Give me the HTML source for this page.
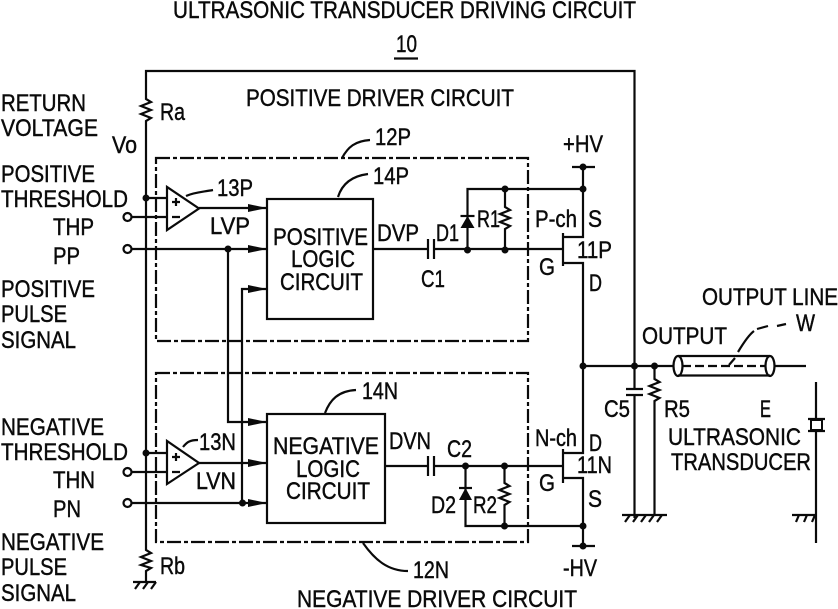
<!DOCTYPE html>
<html><head><meta charset="utf-8"><style>
html,body{margin:0;padding:0;background:#fff}
svg{display:block}
text{font-family:"Liberation Sans",sans-serif;font-size:24.5px;fill:#0a0a0a;stroke:#0a0a0a;stroke-width:.45}
.l{fill:none;stroke:#0a0a0a;stroke-width:2.2}
.d{fill:#0a0a0a;stroke:none}
.t{fill:none;stroke:#0a0a0a;stroke-width:2.2;stroke-dasharray:14 3 4 3}
</style></head><body>
<svg width="838" height="609" viewBox="0 0 838 609" xmlns="http://www.w3.org/2000/svg">
<defs>
<marker id="a" markerWidth="20" markerHeight="10" refX="19" refY="5" orient="auto" markerUnits="userSpaceOnUse"><path d="M0 1L19 5L0 9Z" fill="#0a0a0a"/></marker>
</defs>

<!-- outer box and rails -->
<path class="l" d="M146 97V71H634.500V518"/>
<path class="l" d="M146 97l0 2l5 3l-10 4l10 4l-10 4l10 4l-5 3v2V549l0 1l5 3l-10 4l10 4l-10 4l10 3l-5 3v11"/>
<path class="l" d="M133 582H156M140 582l-5 7M148 582l-5 7M156 582l-5 7"/>
<circle class="d" cx="146" cy="198" r="3.500"/><circle class="d" cx="146" cy="453" r="3.500"/>

<!-- dashed boxes -->
<rect class="t" x="156" y="158" width="372" height="183"/>
<rect class="t" x="156" y="373" width="372" height="169"/>

<!-- comparators -->
<path class="l" d="M167 187V230L199 208.500Z"/>
<path class="l" d="M146 198H167M131 217H167M176 198v8M172 202h8M172 217h8"/>
<path class="l" d="M167 441V484L199 463Z"/>
<path class="l" d="M146 453H167M131 472H167M176 453v8M172 457h8M172 472h8"/>
<circle class="l" cx="127.500" cy="217" r="4"/><circle class="l" cx="127.500" cy="249" r="4"/>
<circle class="l" cx="127.500" cy="472" r="4"/><circle class="l" cx="127.500" cy="503" r="4"/>

<!-- logic blocks -->
<rect class="l" x="267" y="199" width="106" height="120"/>
<rect class="l" x="267" y="414" width="118" height="109"/>

<!-- logic inputs -->
<path class="l" marker-end="url(#a)" d="M199 208H267"/>
<path class="l" marker-end="url(#a)" d="M131 249H267"/>
<path class="l" marker-end="url(#a)" d="M242 503V289H267"/>
<path class="l" marker-end="url(#a)" d="M228 249V422H267"/>
<path class="l" marker-end="url(#a)" d="M199 463H267"/>
<path class="l" marker-end="url(#a)" d="M131 503H267"/>
<circle class="d" cx="228" cy="249" r="3.500"/><circle class="d" cx="242.500" cy="503" r="3.500"/>

<!-- P side -->
<path class="l" d="M373 249H428M434 249H563M428 239V259M434 239V259"/>
<path class="l" d="M467.500 250V189H583"/>
<path class="d" d="M467.500 216L474.500 228H460.500Z"/><path class="l" d="M460.500 216H474.500"/>
<path class="l" d="M505 189V207l5 3l-10 4l10 4l-10 4l10 4l-5 3V249"/>
<path class="l" d="M563 233V266M563 237H583V167M563 263H583V366M572 167H595"/>
<circle class="d" cx="467.500" cy="250" r="3.500"/><circle class="d" cx="505" cy="250" r="3.500"/>
<circle class="d" cx="505" cy="189" r="3.500"/><circle class="d" cx="583" cy="189" r="3.500"/><circle class="d" cx="583" cy="167" r="3.500"/>

<!-- N side -->
<path class="l" d="M385 466H428M434 466H563M428 456V476M434 456V476"/>
<path class="l" d="M465.500 466V526H583"/>
<path class="d" d="M465.500 488L472 500H459Z"/><path class="l" d="M459 488H472"/>
<path class="l" d="M504.500 466V483l5 3l-10 4l10 4l-10 4l10 4l-5 3V526"/>
<path class="l" d="M563 449V483M563 453H583V366M563 478H583V546M572 546H595"/>
<circle class="d" cx="465.500" cy="466" r="3.500"/><circle class="d" cx="504.500" cy="466" r="3.500"/>
<circle class="d" cx="504.500" cy="526" r="3.500"/><circle class="d" cx="583" cy="526" r="3.500"/><circle class="d" cx="583" cy="546" r="3.500"/>

<!-- output -->
<path class="l" d="M583 366H674M774 366H806"/>
<circle class="d" cx="583" cy="366" r="3.500"/><circle class="d" cx="634.500" cy="366" r="3.500"/><circle class="d" cx="654.500" cy="366" r="3.500"/>
<rect x="628" y="390" width="13" height="5" fill="#fff"/>
<path class="l" d="M626 389H643M626 395H643"/>
<path class="l" d="M654.500 366V379l5 3l-10 4l10 4l-10 4l10 4l-5 3V515"/>
<path class="l" d="M622 515H667M630 515l-5 7M638 515l-5 7M646 515l-5 7M654 515l-5 7M662 515l-5 7"/>
<path class="l" d="M678 356H770M678 375.500H770"/>
<ellipse class="l" cx="678" cy="366" rx="4.500" ry="10"/><ellipse class="l" cx="770" cy="366" rx="4.500" ry="10"/>
<path class="l" d="M682 366H766" style="stroke-dasharray:9 4"/>
<path class="l" d="M729 365L735 358M738 352C744 342 750 334 754 331M757 329L768 326M777 326L786 324"/>

<!-- transducer -->
<path class="l" d="M816 382V419M808 419H825M808 431H825M816 431V543M792 515H816M799 515l-3 7M807 515l-3 7M815 515l-3 7"/>
<rect x="811" y="420" width="11" height="10" fill="#fff" stroke="#0a0a0a" stroke-width="2"/>

<!-- leaders -->
<path class="l" d="M342 158C348 147 355 141 370 140"/>
<path class="l" d="M338 197C342 184 352 176 368 174"/>
<path class="l" d="M186 196C195 192 203 192 213 190"/>
<path class="l" d="M183 447C187 442 190 440 198 440"/>
<path class="l" d="M325 413C330 400 338 391 356 390"/>
<path class="l" d="M363 543C375 560 388 571 408 571"/>

<!-- underline 10 -->
<path class="l" d="M394 58.500H418"/>

<!-- text -->
<text x="173" y="18" textLength="463" lengthAdjust="spacingAndGlyphs">ULTRASONIC TRANSDUCER DRIVING CIRCUIT</text>
<text x="396" y="52" textLength="21" lengthAdjust="spacingAndGlyphs">10</text>
<text x="246" y="106" textLength="268" lengthAdjust="spacingAndGlyphs">POSITIVE DRIVER CIRCUIT</text>
<text x="1" y="111" textLength="85" lengthAdjust="spacingAndGlyphs">RETURN</text>
<text x="1" y="136" textLength="97" lengthAdjust="spacingAndGlyphs">VOLTAGE</text>
<text x="160" y="120" textLength="25" lengthAdjust="spacingAndGlyphs">Ra</text>
<text x="112" y="153" textLength="25" lengthAdjust="spacingAndGlyphs">Vo</text>
<text x="1" y="182" textLength="94" lengthAdjust="spacingAndGlyphs">POSITIVE</text>
<text x="1" y="207" textLength="127" lengthAdjust="spacingAndGlyphs">THRESHOLD</text>
<text x="53" y="235" textLength="41" lengthAdjust="spacingAndGlyphs">THP</text>
<text x="53" y="264" textLength="27" lengthAdjust="spacingAndGlyphs">PP</text>
<text x="1" y="297" textLength="94" lengthAdjust="spacingAndGlyphs">POSITIVE</text>
<text x="1" y="322" textLength="66" lengthAdjust="spacingAndGlyphs">PULSE</text>
<text x="1" y="348" textLength="75" lengthAdjust="spacingAndGlyphs">SIGNAL</text>
<text x="217" y="196" textLength="36" lengthAdjust="spacingAndGlyphs">13P</text>
<text x="210" y="234" textLength="40" lengthAdjust="spacingAndGlyphs">LVP</text>
<text x="273" y="245" textLength="95" lengthAdjust="spacingAndGlyphs">POSITIVE</text>
<text x="291" y="267" textLength="64" lengthAdjust="spacingAndGlyphs">LOGIC</text>
<text x="280" y="290" textLength="83" lengthAdjust="spacingAndGlyphs">CIRCUIT</text>
<text x="375" y="145" textLength="36" lengthAdjust="spacingAndGlyphs">12P</text>
<text x="373" y="184" textLength="36" lengthAdjust="spacingAndGlyphs">14P</text>
<text x="563" y="152" textLength="40" lengthAdjust="spacingAndGlyphs">+HV</text>
<text x="377" y="241" textLength="42" lengthAdjust="spacingAndGlyphs">DVP</text>
<text x="436" y="241" textLength="23" lengthAdjust="spacingAndGlyphs">D1</text>
<text x="477" y="227" textLength="23" lengthAdjust="spacingAndGlyphs">R1</text>
<text x="535" y="227" textLength="42" lengthAdjust="spacingAndGlyphs">P-ch</text>
<text x="588" y="227" textLength="14" lengthAdjust="spacingAndGlyphs">S</text>
<text x="577" y="258" textLength="35" lengthAdjust="spacingAndGlyphs">11P</text>
<text x="539" y="275" textLength="16" lengthAdjust="spacingAndGlyphs">G</text>
<text x="421" y="287" textLength="24" lengthAdjust="spacingAndGlyphs">C1</text>
<text x="589" y="291" textLength="13" lengthAdjust="spacingAndGlyphs">D</text>
<text x="1" y="435" textLength="103" lengthAdjust="spacingAndGlyphs">NEGATIVE</text>
<text x="1" y="460" textLength="127" lengthAdjust="spacingAndGlyphs">THRESHOLD</text>
<text x="53" y="488" textLength="42" lengthAdjust="spacingAndGlyphs">THN</text>
<text x="53" y="517" textLength="28" lengthAdjust="spacingAndGlyphs">PN</text>
<text x="1" y="550" textLength="103" lengthAdjust="spacingAndGlyphs">NEGATIVE</text>
<text x="1" y="575" textLength="66" lengthAdjust="spacingAndGlyphs">PULSE</text>
<text x="1" y="601" textLength="75" lengthAdjust="spacingAndGlyphs">SIGNAL</text>
<text x="160" y="574" textLength="25" lengthAdjust="spacingAndGlyphs">Rb</text>
<text x="199" y="450" textLength="37" lengthAdjust="spacingAndGlyphs">13N</text>
<text x="196" y="489" textLength="40" lengthAdjust="spacingAndGlyphs">LVN</text>
<text x="273" y="454" textLength="106" lengthAdjust="spacingAndGlyphs">NEGATIVE</text>
<text x="296" y="477" textLength="64" lengthAdjust="spacingAndGlyphs">LOGIC</text>
<text x="286" y="499" textLength="84" lengthAdjust="spacingAndGlyphs">CIRCUIT</text>
<text x="362" y="399" textLength="36" lengthAdjust="spacingAndGlyphs">14N</text>
<text x="389" y="449" textLength="42" lengthAdjust="spacingAndGlyphs">DVN</text>
<text x="447" y="457" textLength="25" lengthAdjust="spacingAndGlyphs">C2</text>
<text x="431" y="513" textLength="25" lengthAdjust="spacingAndGlyphs">D2</text>
<text x="473" y="513" textLength="24" lengthAdjust="spacingAndGlyphs">R2</text>
<text x="535" y="446" textLength="42" lengthAdjust="spacingAndGlyphs">N-ch</text>
<text x="589" y="451" textLength="13" lengthAdjust="spacingAndGlyphs">D</text>
<text x="577" y="473" textLength="35" lengthAdjust="spacingAndGlyphs">11N</text>
<text x="539" y="491" textLength="16" lengthAdjust="spacingAndGlyphs">G</text>
<text x="588" y="507" textLength="14" lengthAdjust="spacingAndGlyphs">S</text>
<text x="563" y="576" textLength="34" lengthAdjust="spacingAndGlyphs">-HV</text>
<text x="413" y="578" textLength="36" lengthAdjust="spacingAndGlyphs">12N</text>
<text x="297" y="607" textLength="280" lengthAdjust="spacingAndGlyphs">NEGATIVE DRIVER CIRCUIT</text>
<text x="702" y="305" textLength="136" lengthAdjust="spacingAndGlyphs">OUTPUT LINE</text>
<text x="796" y="331" textLength="19" lengthAdjust="spacingAndGlyphs">W</text>
<text x="642" y="344" textLength="85" lengthAdjust="spacingAndGlyphs">OUTPUT</text>
<text x="604" y="417" textLength="26" lengthAdjust="spacingAndGlyphs">C5</text>
<text x="664" y="417" textLength="26" lengthAdjust="spacingAndGlyphs">R5</text>
<text x="760" y="417" textLength="11" lengthAdjust="spacingAndGlyphs">E</text>
<text x="668" y="445" textLength="133" lengthAdjust="spacingAndGlyphs">ULTRASONIC</text>
<text x="671" y="470" textLength="140" lengthAdjust="spacingAndGlyphs">TRANSDUCER</text>
</svg>
</body></html>
